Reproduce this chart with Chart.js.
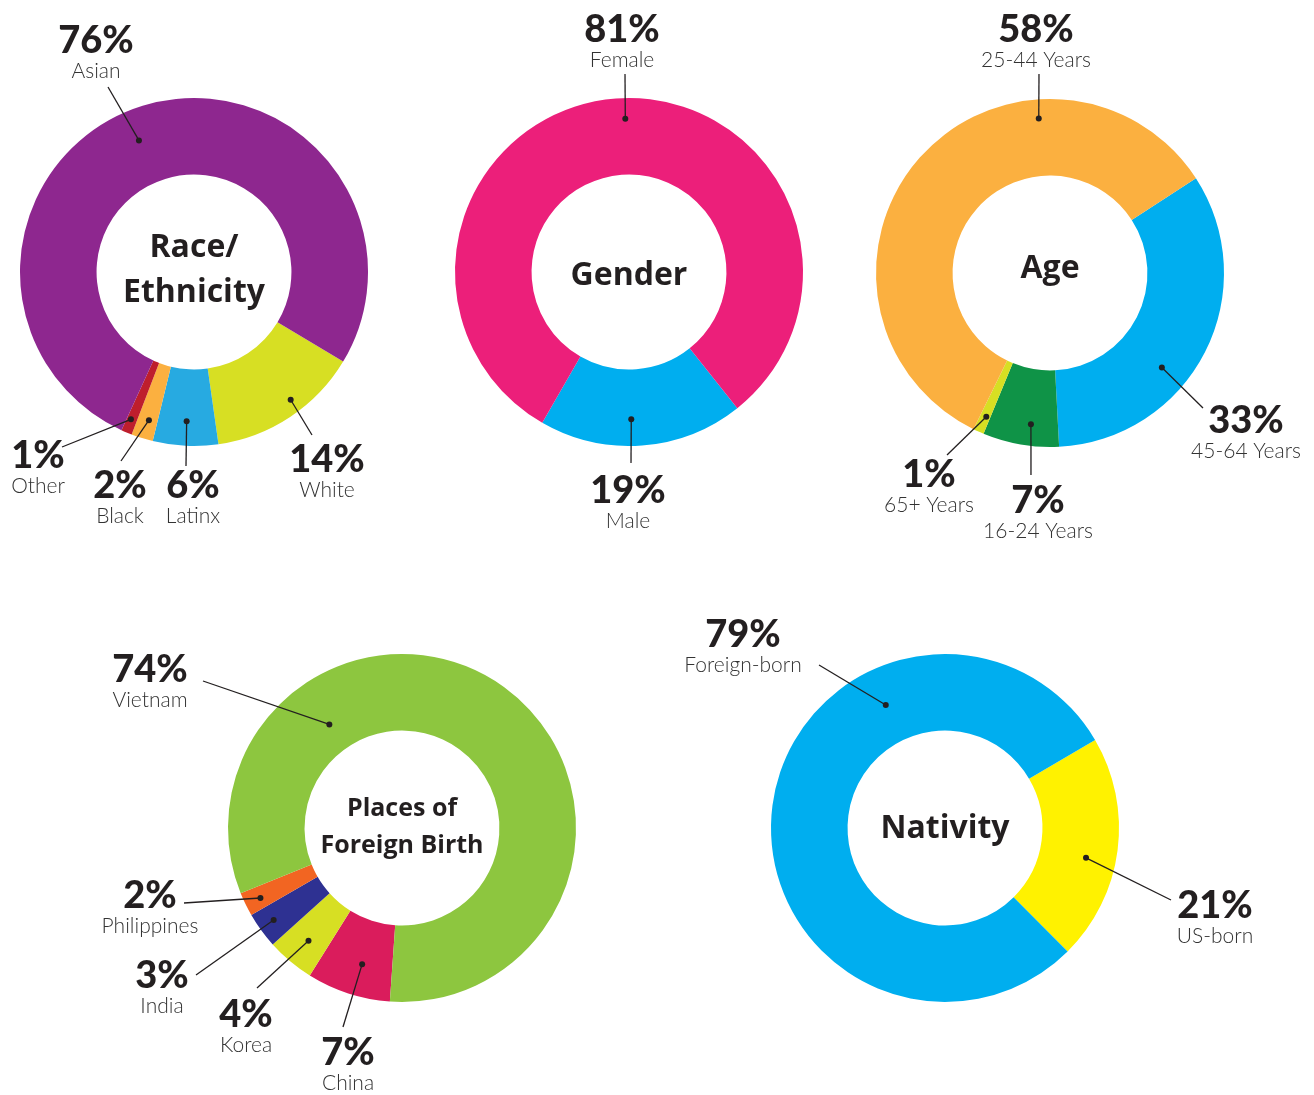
<!DOCTYPE html>
<html>
<head>
<meta charset="utf-8">
<script src="https://cdn.jsdelivr.net/npm/chart.js@4/dist/chart.umd.min.js"></script>
<style>
  body { margin: 0; background: #fff; }
  #wrap { position: relative; width: 1314px; height: 1095px; }
  #wrap canvas { position: absolute; left: 0; top: 0; }
</style>
</head>
<body>
<div id="wrap">
  <canvas id="race" width="1314" height="1095"></canvas>
  <canvas id="gender" width="1314" height="1095"></canvas>
  <canvas id="age" width="1314" height="1095"></canvas>
  <canvas id="birth" width="1314" height="1095"></canvas>
  <canvas id="nativity" width="1314" height="1095"></canvas>
</div>
<script>
// data
const raceLabels = ['White', 'Latinx', 'Black', 'Other', 'Asian'];
const raceValues = [14, 6, 2, 1, 76];
const genderLabels = ['Male', 'Female'];
const genderValues = [19, 81];
const ageLabels = ['45-64 Years', '16-24 Years', '65+ Years', '25-44 Years'];
const ageValues = [33, 7, 1, 58];
const birthLabels = ['China', 'Korea', 'India', 'Philippines', 'Vietnam'];
const birthValues = [7, 4, 3, 2, 74];
const nativityLabels = ['US-born', 'Foreign-born'];
const nativityValues = [21, 79];

// colours
const raceColors = ['#d7df23', '#27aae1', '#fbb040', '#be1e2d', '#8e278f'];
const genderColors = ['#00aeef', '#ec1f7a'];
const ageColors = ['#00aeef', '#0f9347', '#d7df23', '#fbb040'];
const birthColors = ['#da1c5c', '#d7df23', '#2e3192', '#f26522', '#8dc63f'];
const nativityColors = ['#fff200', '#00aeef'];

const W = 1314, H = 1095;
const pctFont = '900 38px Lato, "DejaVu Sans", sans-serif';
const nameFont = '300 21px Lato, "DejaVu Sans", sans-serif';
const titleFont = '700 32px "Open Sans", sans-serif';

// draws centre title, leader lines, dots and labels
const callouts = {
  id: 'callouts',
  afterDatasetsDraw(chart, args, opts) {
    const ctx = chart.ctx;
    const meta = chart.getDatasetMeta(0);
    const values = chart.data.datasets[0].data;
    const first = meta.data[0].getProps(['x', 'y'], true);
    ctx.save();
    ctx.fillStyle = '#231f20';
    ctx.textAlign = 'center';
    ctx.textBaseline = 'alphabetic';
    ctx.font = opts.titleFont || titleFont;
    opts.title.forEach((t) => {
      ctx.fillText(t.text, first.x, first.y + t.dy);
    });

    opts.spots.forEach((s, i) => {
      const p = meta.data[i].getProps(['x', 'y', 'startAngle', 'endAngle', 'innerRadius', 'outerRadius'], true);
      const a = p.startAngle + (p.endAngle - p.startAngle) * s.t;
      const r = p.innerRadius + (p.outerRadius - p.innerRadius) * s.u;
      const dx = p.x + Math.cos(a) * r;
      const dy = p.y + Math.sin(a) * r;
      ctx.strokeStyle = '#231f20';
      ctx.lineWidth = 1.3;
      ctx.beginPath();
      ctx.moveTo(s.lx, s.ly);
      ctx.lineTo(dx, dy);
      ctx.stroke();
      ctx.beginPath();
      ctx.arc(dx, dy, 3, 0, Math.PI * 2);
      ctx.fill();

      ctx.fillStyle = '#231f20';
      ctx.font = pctFont;
      ctx.fillText(values[i] + '%', s.x, s.y);
      ctx.fillStyle = '#333333';
      ctx.font = nameFont;
      ctx.fillText(chart.data.labels[i], s.x, s.y + 25);
      ctx.fillStyle = '#231f20';
    });
    ctx.restore();
  }
};

function donut(id, labels, values, colors, rotation, cx, cy, spots, title, tFont) {
  const r = 174;
  return new Chart(document.getElementById(id).getContext('2d'), {
    type: 'doughnut',
    data: {
      labels: labels,
      datasets: [{
        data: values,
        backgroundColor: colors,
        borderWidth: 0,
        hoverOffset: 0
      }]
    },
    options: {
      responsive: false,
      animation: false,
      events: [],
      cutout: '56%',
      rotation: rotation,
      layout: {
        padding: { left: cx - r, top: cy - r, right: W - cx - r, bottom: H - cy - r }
      },
      plugins: {
        legend: { display: false },
        tooltip: { enabled: false },
        callouts: { spots: spots, title: title, titleFont: tFont }
      }
    },
    plugins: [callouts]
  });
}

donut('race', raceLabels, raceValues, raceColors, 121, 194, 272, [
  { x: 327, y: 472, lx: 312, ly: 435, t: 0.43, u: 0.82 },
  { x: 193, y: 498, lx: 186, ly: 466, t: 0.5, u: 0.68 },
  { x: 120, y: 498, lx: 121, ly: 461, t: 0.44, u: 0.75 },
  { x: 38, y: 468, lx: 62, ly: 447, t: 0.6, u: 0.82 },
  { x: 96, y: 53, lx: 108, ly: 87, t: 0.48, u: 0.59 }
], [{ text: 'Race/', dy: -15 }, { text: 'Ethnicity', dy: 30 }]);

donut('gender', genderLabels, genderValues, genderColors, 141.5, 629, 272, [
  { x: 628, y: 503, lx: 631, ly: 463, t: 0.55, u: 0.65 },
  { x: 622, y: 42, lx: 625, ly: 74, t: 0.51, u: 0.73 }
], [{ text: 'Gender', dy: 13 }]);

donut('age', ageLabels, ageValues, ageColors, 57, 1050, 273, [
  { x: 1246, y: 433, lx: 1203, ly: 408, t: 0.61, u: 0.64 },
  { x: 1038, y: 513, lx: 1031, ly: 475, t: 0.4, u: 0.72 },
  { x: 929, y: 487, lx: 947, ly: 455, t: 0.4, u: 0.78 },
  { x: 1036, y: 42, lx: 1039, ly: 74, t: 0.71, u: 0.75 }
], [{ text: 'Age', dy: 5 }]);

donut('birth', birthLabels, birthValues, birthColors, 184, 402, 828, [
  { x: 348, y: 1065, lx: 343, ly: 1027, t: 0.44, u: 0.58 },
  { x: 246, y: 1027, lx: 257, ly: 988, t: 0.48, u: 0.64 },
  { x: 162, y: 988, lx: 196, ly: 975, t: 0.53, u: 0.79 },
  { x: 150, y: 908, lx: 184, ly: 903, t: 0.46, u: 0.79 },
  { x: 150, y: 682, lx: 203, ly: 681, t: 0.26, u: 0.38 }
], [{ text: 'Places of', dy: -12 }, { text: 'Foreign Birth', dy: 25 }], '700 25px "Open Sans", sans-serif');

donut('nativity', nativityLabels, nativityValues, nativityColors, 59.6, 945, 828, [
  { x: 1215, y: 918, lx: 1171, ly: 900, t: 0.56, u: 0.61 },
  { x: 743, y: 647, lx: 819, ly: 665, t: 0.7, u: 0.51 }
], [{ text: 'Nativity', dy: 10 }]);
</script>
</body>
</html>
